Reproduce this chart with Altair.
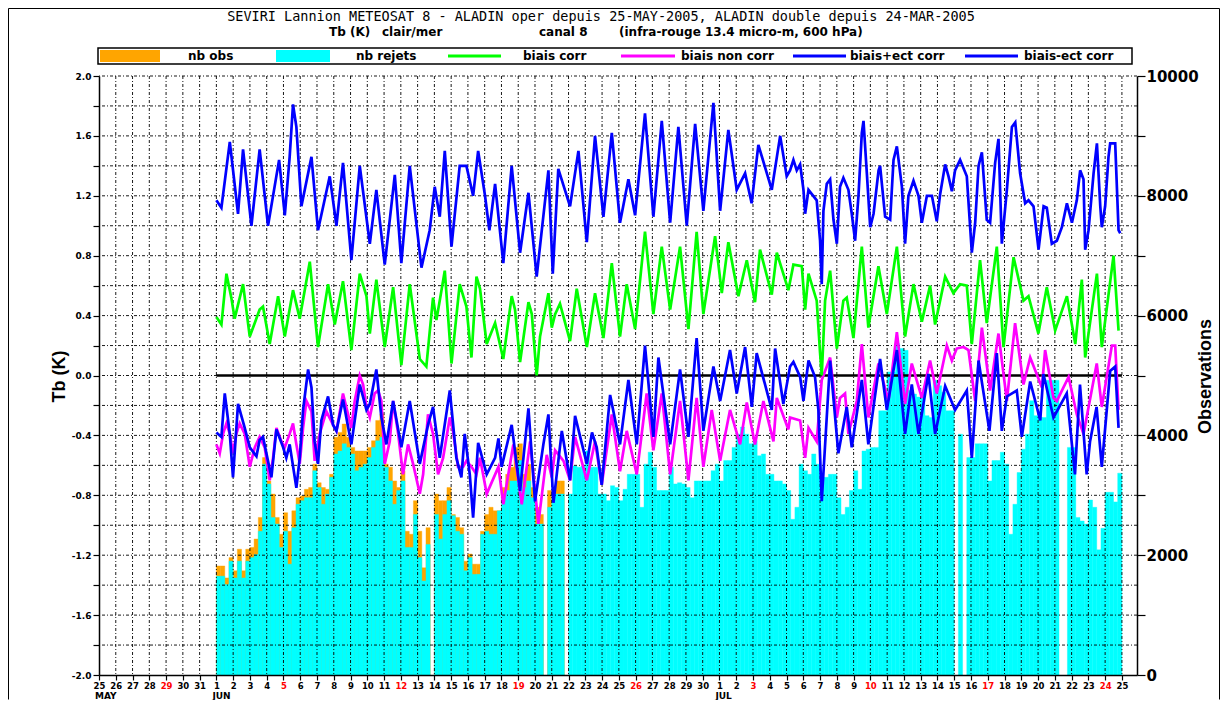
import altair as alt
import pandas as pd

# ------------------------------------------------------------------
# Data. Time = days since 1 June 2005 00 UTC
# (25 May = -7, 1 Jul = 30, 25 Jul = 54).
# ------------------------------------------------------------------
TITLE_1 = "SEVIRI Lannion METEOSAT 8 - ALADIN oper depuis 25-MAY-2005, ALADIN double depuis 24-MAR-2005"
TITLE_2 = ["Tb (K)", "clair/mer", "canal 8", "(infra-rouge 13.4 micro-m, 600 hPa)"]
SERIES = ["nb obs", "nb rejets", "biais corr", "biais non corr", "biais+ect corr", "biais-ect corr"]
COLORS = ["#FFA500", "#00FFFF", "#00FF00", "#FF00FF", "#0000FF", "#0000FF"]
MONTHS = ["MAY", "JUN", "JUL"]
MONTH_START = [-7, 0, 30]

ECT_PLUS = [
    (0.00, 1.17), (0.30, 1.12), (0.80, 1.56), (1.29, 1.08), (1.59, 1.51), (2.09, 1.00), (2.58, 1.51), (3.08, 1.00), (3.74, 1.44), (4.08, 1.07),
    (4.37, 1.46), (4.57, 1.81), (4.77, 1.66), (5.07, 1.13), (5.67, 1.46), (6.06, 0.97), (6.76, 1.33), (7.16, 1.00), (7.55, 1.42), (8.05, 0.77),
    (8.55, 1.40), (9.15, 0.88), (9.54, 1.24), (10.04, 0.74), (10.64, 1.34), (11.03, 0.75), (11.53, 1.40), (12.23, 0.72), (12.72, 0.97), (13.02, 1.26),
    (13.32, 1.06), (13.62, 1.50), (14.02, 0.86), (14.51, 1.40), (14.91, 1.40), (15.31, 1.20), (15.61, 1.50), (16.02, 1.20), (16.28, 0.97), (16.62, 1.28),
    (17.11, 0.75), (17.61, 1.40), (18.11, 0.82), (18.61, 1.22), (19.10, 0.66), (19.80, 1.37), (20.06, 0.68), (20.39, 1.38), (21.09, 1.13), (21.59, 1.50),
    (22.09, 0.89), (22.58, 1.60), (23.08, 1.06), (23.58, 1.62), (24.07, 1.02), (24.57, 1.31), (24.97, 1.07), (25.56, 1.75), (26.06, 1.06), (26.56, 1.70),
    (27.06, 1.02), (27.55, 1.66), (28.05, 1.00), (28.55, 1.68), (29.04, 1.10), (29.64, 1.82), (30.04, 1.10), (30.53, 1.64), (31.03, 1.24), (31.53, 1.35),
    (31.92, 1.15), (32.32, 1.54), (33.12, 1.24), (33.62, 1.60), (34.01, 1.33), (34.21, 1.37), (34.41, 1.44), (34.61, 1.37), (34.81, 1.41), (35.01, 1.24),
    (35.11, 1.08), (35.31, 1.24), (35.80, 1.17), (36.00, 0.90), (36.10, 0.61), (36.20, 1.10), (36.40, 1.28), (36.60, 1.31), (36.80, 1.04), (37.00, 0.88),
    (37.19, 1.26), (37.39, 1.32), (37.69, 1.24), (37.89, 1.08), (38.09, 0.90), (38.29, 1.20), (38.49, 1.62), (38.59, 1.70), (38.79, 1.35), (38.99, 0.99),
    (39.19, 1.08), (39.49, 1.37), (39.58, 1.40), (39.88, 1.06), (40.18, 1.04), (40.38, 1.44), (40.58, 1.53), (40.88, 1.26), (41.07, 0.88), (41.27, 1.20),
    (41.57, 1.30), (41.87, 1.20), (42.07, 1.02), (42.37, 1.20), (42.67, 1.20), (42.96, 1.03), (43.16, 1.21), (43.46, 1.41), (43.66, 1.33), (43.86, 1.23),
    (44.05, 1.37), (44.35, 1.44), (44.75, 1.33), (45.05, 0.82), (45.25, 1.02), (45.45, 1.40), (45.65, 1.49), (45.94, 1.04), (46.14, 1.02), (46.44, 1.42),
    (46.64, 1.58), (46.84, 0.88), (47.14, 1.24), (47.44, 1.66), (47.64, 1.69), (47.93, 1.35), (48.23, 1.15), (48.43, 1.17), (48.73, 1.13), (49.03, 0.84),
    (49.33, 1.13), (49.52, 1.12), (49.82, 0.88), (50.12, 0.90), (50.42, 0.99), (50.72, 1.15), (51.02, 1.02), (51.31, 1.17), (51.51, 1.37), (51.71, 1.31),
    (51.81, 0.84), (52.01, 0.97), (52.31, 1.35), (52.51, 1.55), (52.71, 1.13), (52.80, 0.99), (53.00, 1.13), (53.20, 1.46), (53.30, 1.55), (53.60, 1.55),
    (53.80, 0.97), (53.90, 0.95),
]

BIAIS_CORR = [
    (0.00, 0.39), (0.30, 0.34), (0.60, 0.68), (0.89, 0.52), (1.09, 0.38), (1.59, 0.61), (1.99, 0.26), (2.58, 0.44), (2.78, 0.46), (3.18, 0.21),
    (3.68, 0.53), (4.08, 0.26), (4.57, 0.57), (4.97, 0.38), (5.57, 0.76), (6.06, 0.19), (6.66, 0.61), (7.06, 0.34), (7.55, 0.63), (8.05, 0.17),
    (8.55, 0.68), (8.95, 0.53), (9.15, 0.28), (9.54, 0.64), (10.04, 0.19), (10.54, 0.59), (11.03, 0.07), (11.53, 0.61), (12.13, 0.11), (12.52, 0.06),
    (12.92, 0.52), (13.12, 0.37), (13.32, 0.50), (13.62, 0.70), (14.02, 0.08), (14.51, 0.61), (14.91, 0.46), (15.21, 0.12), (15.51, 0.66), (15.72, 0.58),
    (16.12, 0.21), (16.62, 0.35), (17.11, 0.11), (17.61, 0.53), (17.81, 0.44), (18.11, 0.09), (18.61, 0.49), (18.81, 0.41), (19.10, 0.00), (19.30, 0.26),
    (19.80, 0.55), (20.00, 0.32), (20.20, 0.41), (20.49, 0.48), (21.09, 0.23), (21.49, 0.58), (22.09, 0.19), (22.58, 0.55), (23.08, 0.25), (23.58, 0.75),
    (24.07, 0.26), (24.47, 0.61), (24.97, 0.31), (25.56, 0.96), (26.06, 0.41), (26.56, 0.86), (27.06, 0.44), (27.65, 0.86), (28.15, 0.31), (28.64, 0.96),
    (29.04, 0.41), (29.74, 0.93), (30.14, 0.55), (30.53, 0.89), (31.13, 0.53), (31.63, 0.77), (32.12, 0.49), (32.42, 0.84), (33.12, 0.54), (33.42, 0.82),
    (34.11, 0.57), (34.41, 0.74), (34.91, 0.73), (35.11, 0.44), (35.31, 0.68), (35.80, 0.50), (36.00, 0.15), (36.10, 0.00), (36.30, 0.50), (36.60, 0.70),
    (37.00, 0.18), (37.39, 0.50), (37.59, 0.52), (37.99, 0.25), (38.49, 0.86), (38.88, 0.32), (39.48, 0.73), (39.98, 0.41), (40.58, 0.86), (41.07, 0.26),
    (41.57, 0.61), (42.07, 0.36), (42.56, 0.60), (42.86, 0.34), (43.46, 0.66), (43.95, 0.55), (44.35, 0.61), (44.75, 0.60), (45.05, 0.21), (45.54, 0.77),
    (45.94, 0.35), (46.54, 0.86), (46.94, 0.19), (47.54, 0.79), (48.13, 0.50), (48.43, 0.53), (49.02, 0.28), (49.52, 0.59), (50.02, 0.30), (50.72, 0.53),
    (51.22, 0.21), (51.61, 0.64), (51.81, 0.12), (52.51, 0.68), (52.80, 0.19), (53.50, 0.80), (53.80, 0.30),
]

BIAIS_NON_CORR = [
    (0.00, -0.46), (0.20, -0.52), (0.40, -0.39), (0.60, -0.32), (0.80, -0.39), (0.99, -0.52), (1.19, -0.39), (1.39, -0.32), (1.69, -0.39), (1.99, -0.61),
    (2.29, -0.48), (2.58, -0.41), (2.88, -0.48), (3.18, -0.70), (3.38, -0.55), (3.58, -0.35), (3.88, -0.44), (4.08, -0.48), (4.37, -0.39), (4.57, -0.32),
    (4.77, -0.46), (4.97, -0.59), (5.17, -0.35), (5.37, -0.17), (5.67, -0.24), (5.86, -0.57), (6.16, -0.39), (6.56, -0.24), (6.96, -0.33), (7.16, -0.37),
    (7.55, -0.12), (8.05, -0.35), (8.25, -0.17), (8.55, 0.00), (8.75, -0.06), (8.95, -0.21), (9.15, -0.28), (9.44, -0.12), (9.64, -0.10), (9.84, -0.17),
    (10.04, -0.59), (10.34, -0.44), (10.54, -0.17), (10.84, -0.39), (11.13, -0.66), (11.43, -0.46), (11.73, -0.59), (12.13, -0.79), (12.33, -0.66), (12.62, -0.26),
    (12.92, -0.39), (13.22, -0.66), (13.52, -0.55), (13.92, -0.28), (14.11, -0.37), (14.41, -0.61), (14.71, -0.61), (14.91, -0.57), (15.21, -0.61), (15.51, -0.66),
    (15.72, -0.55), (16.12, -0.79), (16.82, -0.61), (17.11, -0.86), (17.71, -0.46), (18.21, -0.86), (18.71, -0.44), (19.20, -0.99), (19.70, -0.53), (20.00, -0.68),
    (20.20, -0.50), (20.70, -0.57), (21.09, -0.70), (21.39, -0.41), (22.09, -0.70), (22.58, -0.44), (22.98, -0.73), (23.58, -0.26), (24.07, -0.64), (24.47, -0.37),
    (25.07, -0.66), (25.66, -0.12), (26.06, -0.50), (26.56, -0.12), (27.06, -0.66), (27.65, -0.17), (28.15, -0.70), (28.64, -0.15), (29.04, -0.61), (29.54, -0.23),
    (30.04, -0.57), (30.63, -0.23), (31.23, -0.46), (31.63, -0.18), (32.12, -0.46), (32.62, -0.17), (33.22, -0.44), (33.42, -0.15), (34.11, -0.36), (34.21, -0.28),
    (34.81, -0.30), (35.11, -0.55), (35.31, -0.35), (35.80, -0.44), (36.10, -0.03), (36.60, 0.12), (37.00, -0.28), (37.19, -0.15), (37.49, -0.12), (37.69, -0.39),
    (38.19, -0.17), (38.49, 0.21), (38.88, -0.28), (39.48, 0.08), (40.08, -0.17), (40.58, 0.29), (41.07, -0.19), (41.47, 0.08), (42.07, -0.15), (42.56, 0.10),
    (42.96, -0.12), (43.56, 0.20), (43.86, 0.10), (44.15, 0.18), (44.55, 0.19), (44.85, 0.17), (45.25, -0.17), (45.65, 0.32), (46.14, -0.10), (46.64, 0.28),
    (47.14, -0.17), (47.63, 0.35), (48.13, -0.06), (48.53, 0.12), (49.23, -0.08), (49.42, 0.17), (49.92, -0.15), (50.12, -0.17), (50.82, -0.01), (51.31, -0.26),
    (51.71, -0.39), (52.50, 0.08), (52.80, -0.21), (53.40, 0.20), (53.60, 0.20), (53.80, -0.23),
]

ECT_MINUS = [
    (0.00, -0.38), (0.30, -0.41), (0.50, -0.12), (0.80, -0.39), (0.99, -0.68), (1.29, -0.19), (1.69, -0.35), (1.99, -0.48), (2.39, -0.54), (2.58, -0.43),
    (2.78, -0.41), (3.28, -0.68), (3.58, -0.36), (3.98, -0.48), (4.17, -0.55), (4.37, -0.46), (4.77, -0.75), (4.97, -0.55), (5.17, -0.23), (5.47, 0.04),
    (5.67, -0.08), (5.86, -0.44), (6.06, -0.59), (6.26, -0.30), (6.66, -0.14), (6.96, -0.33), (7.16, -0.37), (7.55, -0.16), (8.05, -0.46), (8.55, -0.06),
    (8.95, -0.23), (9.15, -0.19), (9.54, 0.04), (9.84, -0.28), (10.14, -0.46), (10.54, -0.17), (11.03, -0.48), (11.53, -0.17), (12.13, -0.59), (12.62, -0.33),
    (12.92, -0.21), (13.32, -0.55), (13.92, -0.10), (14.31, -0.55), (14.61, -0.68), (14.81, -0.39), (15.11, -0.66), (15.31, -0.95), (15.61, -0.45), (16.12, -0.66),
    (16.62, -0.55), (16.82, -0.42), (17.01, -0.61), (17.61, -0.33), (18.11, -0.77), (18.61, -0.22), (19.00, -0.84), (19.50, -0.46), (19.80, -0.26), (20.10, -0.85),
    (20.60, -0.37), (21.09, -0.70), (21.39, -0.27), (22.09, -0.59), (22.40, -0.38), (22.68, -0.48), (22.98, -0.73), (23.48, -0.13), (24.07, -0.46), (24.57, -0.03),
    (25.07, -0.46), (25.56, 0.20), (26.06, -0.41), (26.36, 0.12), (27.06, -0.46), (27.65, 0.04), (28.15, -0.41), (28.64, 0.25), (29.04, -0.37), (29.64, 0.06),
    (30.04, -0.17), (30.63, 0.17), (31.03, -0.12), (31.53, 0.19), (31.93, -0.21), (32.22, 0.15), (33.12, -0.23), (33.32, 0.18), (33.81, -0.19), (34.21, 0.06),
    (34.41, 0.09), (34.81, -0.01), (35.01, -0.17), (35.31, 0.10), (35.70, -0.01), (35.90, -0.23), (36.10, -0.84), (36.60, 0.10), (37.09, -0.52), (37.59, -0.21),
    (37.89, -0.48), (38.49, -0.03), (38.88, -0.46), (39.58, 0.11), (39.98, -0.23), (40.58, 0.17), (41.07, -0.39), (41.47, -0.06), (41.87, -0.39), (42.46, 0.01),
    (42.86, -0.39), (43.46, -0.07), (44.05, -0.23), (44.75, -0.10), (45.05, -0.55), (45.45, 0.10), (46.10, -0.37), (46.54, 0.15), (46.84, -0.37), (47.14, -0.14),
    (47.73, -0.10), (48.03, -0.41), (48.53, -0.04), (49.13, -0.30), (49.32, 0.01), (49.92, -0.28), (50.71, -0.12), (51.20, -0.66), (51.50, -0.06), (51.90, -0.66),
    (52.10, -0.44), (52.49, -0.21), (52.80, -0.61), (53.30, 0.03), (53.60, 0.06), (53.80, -0.35),
]

# 6-hourly counts starting 1 Jun 00 UTC (0 = missing)
NB_REJETS = [
    1650, 1650, 1510, 1900, 1620, 1900, 1620, 1900, 1960, 2010, 2400, 3520,
    3190, 2630, 2520, 2130, 2400, 1850, 2460, 2850, 2910, 2960, 2960, 3410,
    3130, 2850, 3020, 3300, 3690, 3740, 3860, 3800, 3690, 3410, 3470, 3520,
    3630, 3800, 3910, 3970, 3470, 3240, 2850, 3080, 3240, 2130, 2130, 2680,
    1960, 1570, 2180, 0, 2680, 2270, 2680, 2910, 2660, 2400, 2350, 1740,
    1960, 1680, 1680, 2350, 2400, 2350, 2350, 2740, 2960, 3080, 3240, 3240,
    3580, 3130, 3240, 2960, 2520, 2520, 0, 2800, 3020, 3020, 3020, 0,
    3020, 3490, 3470, 3490, 3740, 3470, 3470, 3020, 3020, 2910, 3160, 3130,
    2910, 3100, 3350, 3350, 3350, 2800, 3520, 3720, 3470, 3080, 3080, 3080,
    3470, 3190, 3210, 3190, 3130, 2960, 3240, 3240, 3240, 3240, 3410, 3520,
    3240, 3580, 3580, 3800, 4020, 4140, 4020, 3860, 3910, 3660, 3690, 3350,
    3350, 3240, 3240, 3190, 3080, 2600, 2800, 3520, 3410, 3350, 3690, 3520,
    3300, 3300, 3350, 3350, 2960, 2680, 2800, 3080, 3410, 3100, 3740, 3770,
    3800, 3800, 4410, 4410, 5060, 5060, 5530, 5450, 5420, 4750, 4690, 4640,
    4690, 4330, 4300, 4920, 4830, 4720, 4410, 4410, 0, 4020, 0, 3630,
    3630, 3860, 3860, 3860, 3240, 3580, 3580, 3720, 3520, 2350, 2850, 3380,
    3770, 4020, 4580, 4330, 4300, 4300, 4920, 4920, 4920, 0, 0, 3800,
    3800, 2630, 2570, 2520, 2920, 2800, 2090, 2450, 3050, 3050, 2890, 3370,
]

# 6-hourly counts starting 1 Jun 00 UTC (visible part only)
NB_OBS = [
    1820, 1820, 1620, 1960, 1740, 2100, 1740, 2100, 2130, 2270, 2630, 3630,
    3240, 3020, 2630, 2350, 2710, 2400, 2740, 2960, 2990, 3100, 3130, 3520,
    3210, 3130, 3100, 3350, 3970, 4050, 4190, 3970, 3800, 3740, 3740, 3740,
    3800, 3910, 4250, 4360, 3520, 3470, 3240, 3130, 3410, 2400, 2350, 2910,
    2400, 1790, 2460, 0, 3020, 2910, 2910, 3130, 2680, 2630, 2460, 1900,
    2020, 1850, 1850, 2400, 2680, 2800, 2740, 2740, 3130, 3350, 3470, 3800,
    3860, 3350, 3520, 3130, 2800, 2680, 0, 3080, 3080, 3240, 3240, 0,
]

# ------------------------------------------------------------------
W, H = 1038, 599
STEP = 0.25  # 6 hours


def line_df(pairs):
    return pd.DataFrame(pairs, columns=["t", "v"])


def count_df(values):
    df = pd.DataFrame({"obs": values})
    df["t0"] = df.index * STEP
    df["t1"] = df["t0"] + STEP
    return df[df["obs"] > 0]


xs = alt.Scale(domain=[-7, 54.9], nice=False, zero=False)
x_axis = alt.Axis(
    orient="bottom",
    values=list(range(-7, 55)),
    labelExpr="datum.value < 0 ? '' + (datum.value + 32) : (datum.value < 30 ? '' + (datum.value + 1) : '' + (datum.value - 29))",
    labelColor={"condition": {"test": "(datum.value + 3) % 7 == 0", "value": "#FF0000"}, "value": "#000000"},
    labelFont="DejaVu Sans", labelFontWeight="bold", labelFontSize=8.5,
    labelPadding=1, labelOverlap=False, labelFlush=False, labelAngle=0,
    tickSize=5, tickWidth=1.2, tickColor="black",
    domainColor="black", domainWidth=1.5, grid=False, zindex=1,
)

yl_scale = alt.Scale(domain=[-2, 2], nice=False, zero=False)
yl_axis = alt.Axis(
    orient="left",
    values=[round(-2 + 0.2 * i, 1) for i in range(21)],
    labelExpr="abs(round(datum.value * 10)) % 4 == 0 ? (datum.value < -0.01 ? '-' : '') + format(abs(datum.value), '.1f') : ''",
    labelFont="DejaVu Sans", labelFontWeight="bold", labelFontSize=9, labelPadding=2, labelOverlap=False,
    tickSize=6, tickWidth=1.2, tickColor="black", domainColor="black", domainWidth=1.5,
    grid=False, zindex=1,
    titleFont="Liberation Sans", titleFontWeight="bold", titleFontSize=18, titleColor="black",
    titleAngle=270, titleX=-40, titleY=300, titleAlign="center", titleBaseline="middle",
)

yr_scale = alt.Scale(domain=[0, 10000], nice=False, zero=False)
yr_axis = alt.Axis(
    orient="right",
    values=list(range(0, 10001, 1000)),
    labelExpr="datum.value % 2000 == 0 ? '' + datum.value : ''",
    labelFont="DejaVu Sans", labelFontWeight="bold", labelFontSize=15, labelPadding=1, labelOverlap=False,
    tickSize=8, tickWidth=1.2, tickColor="black", domainColor="black", domainWidth=1.5,
    grid=False, zindex=1,
    titleFont="Liberation Sans", titleFontWeight="bold", titleFontSize=18, titleColor="black",
    titleAngle=270, titleX=68, titleY=300, titleAlign="center", titleBaseline="middle",
)


def X(field):
    return alt.X(field, type="quantitative", scale=xs, axis=x_axis, title=None)


def YL(field):
    return alt.Y(field, type="quantitative", scale=yl_scale, axis=yl_axis, title="Tb (K)")


def YR(field):
    return alt.Y(field, type="quantitative", scale=yr_scale, axis=yr_axis, title="Observations")


# --- bars (right axis) ---
obs_layer = alt.Chart(count_df(NB_OBS)).mark_rect(color=COLORS[0], stroke=COLORS[0], strokeWidth=0.4).encode(
    x=X("t0"), x2="t1", y=YR("obs"), y2=alt.datum(0))
rej_layer = alt.Chart(count_df(NB_REJETS)).mark_rect(color=COLORS[1], stroke=COLORS[1], strokeWidth=0.4).encode(
    x=X("t0"), x2="t1", y=YR("obs"), y2=alt.datum(0))
bars = alt.layer(obs_layer, rej_layer)

# --- grid (dash-dot) ---
DASH = [3, 2, 1, 2]
vgrid = alt.Chart(pd.DataFrame({"t": list(range(-6, 55))})).mark_rule(
    color="black", strokeWidth=1, strokeDash=DASH, opacity=0.9).encode(x=X("t"))
hgrid = alt.Chart(pd.DataFrame({"v": [round(-1.8 + 0.2 * i, 1) for i in range(20)]})).mark_rule(
    color="black", strokeWidth=1, strokeDash=DASH, opacity=0.9).encode(y=YL("v"))
zero = alt.Chart(pd.DataFrame({"t0": [0], "t1": [54], "v": [0.0]})).mark_rule(
    color="black", strokeWidth=2.5).encode(x=X("t0"), x2="t1", y=YL("v"))


# --- lines ---
def line(pairs, color):
    return alt.Chart(line_df(pairs)).mark_line(color=color, strokeWidth=2.7, strokeJoin="miter").encode(
        x=X("t"), y=YL("v"))


lines = [line(BIAIS_NON_CORR, COLORS[3]), line(BIAIS_CORR, COLORS[2]),
         line(ECT_PLUS, COLORS[4]), line(ECT_MINUS, COLORS[5])]

# --- texts / legend (positions relative to plot origin) ---
ONE = alt.Data(values=[{}])


def txt(s, x, y, size, weight="normal", font="DejaVu Sans", align="left", color="black"):
    return alt.Chart(ONE).mark_text(text=s, align=align, baseline="middle", font=font, fontSize=size,
                                    fontWeight=weight, color=color).encode(x=alt.value(x), y=alt.value(y))


def box(x1, x2, y1, y2, fill, stroke=None, sw=0):
    kw = dict(fill=fill)
    if stroke:
        kw.update(stroke=stroke, strokeWidth=sw)
    return alt.Chart(ONE).mark_rect(**kw).encode(
        x=alt.value(x1), x2=alt.value(x2), y=alt.value(y1), y2=alt.value(y2))


def hline(x1, x2, y, color, sw):
    return alt.Chart(ONE).mark_rule(color=color, strokeWidth=sw).encode(
        x=alt.value(x1), x2=alt.value(x2), y=alt.value(y))


def vline(x, y1, y2, color, sw):
    return alt.Chart(ONE).mark_rule(color=color, strokeWidth=sw).encode(
        x=alt.value(x), y=alt.value(y1), y2=alt.value(y2))


decor = []
decor.append(txt(TITLE_1, 502, -59.5, 13.5, font="DejaVu Sans Mono", align="center"))
for s, x in zip(TITLE_2, [230, 283, 440, 520]):
    decor.append(txt(s, x, -44, 12, weight="bold"))

# legend
LEG_Y = -20
decor.append(box(-1, 1033, -28, -12, "white", "black", 1.5))
decor.append(box(1, 61, -26, -14, COLORS[0]))
decor.append(box(177, 231, -26, -14, COLORS[1]))
for (x1, x2), c in zip([(349, 402), (522, 576), (694, 747), (866, 919)], COLORS[2:]):
    decor.append(hline(x1, x2, LEG_Y, c, 3))
for s, x in zip(SERIES, [89, 257, 424, 582, 751, 925]):
    decor.append(txt(s, x, LEG_Y, 12, weight="bold"))

# month labels under the day axis
month_df = pd.DataFrame({"t": MONTH_START, "m": MONTHS})
decor.append(alt.Chart(month_df).mark_text(align="left", baseline="alphabetic", font="DejaVu Sans",
                                           fontWeight="bold", fontSize=9, dx=-4).encode(
    x=X("t"), y=alt.value(623), text="m:N"))

# outer frame
decor.append(vline(-90.5, -67.5, 623.5, "black", 1))
decor.append(vline(1120.5, -67.5, 623.5, "black", 1))
decor.append(hline(-90.5, 1120.5, -67.5, "black", 1))

left = alt.layer(vgrid, hgrid, zero, *lines, *decor)

chart = alt.layer(bars, left).resolve_scale(y="independent").properties(
    width=W, height=H,
    autosize=alt.AutoSizeParams(type="none"),
    padding={"left": 91, "top": 68, "right": 83, "bottom": 25},
    background="white",
).configure_view(stroke=None)

chart.save("out.html", embed_options={"renderer": "svg", "actions": False})
